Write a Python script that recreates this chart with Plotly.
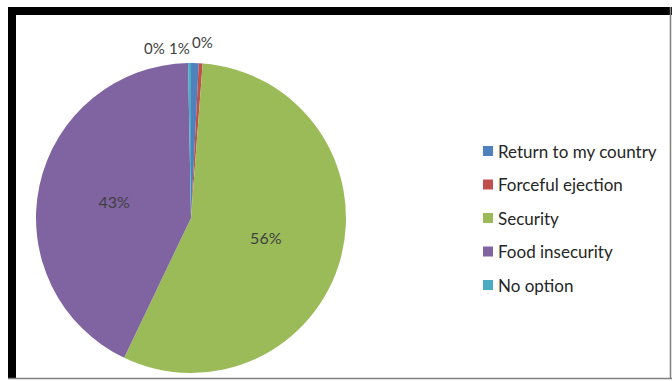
import plotly.graph_objects as go

labels = ["Return to my country", "Forceful ejection", "Security", "Food insecurity", "No option"]
values = [0.8, 0.4, 55.9, 42.6, 0.3]
colors = ["#4F81BD", "#C0504D", "#9BBB59", "#8064A2", "#4BACC6"]

W, H = 672, 381
FONT = "Lato, Calibri, 'Open Sans', sans-serif"
LABEL_COLOR = "#404040"

def px(x):
    return x / W

def py(y):
    return 1 - y / H

cx, cy, r = 191, 218, 155
total = sum(values)
pct = [f"{round(v / total * 100):.0f}%" for v in values]
small = [v / total < 0.02 for v in values]

fig = go.Figure(go.Pie(
    labels=labels,
    values=values,
    sort=False,
    direction="clockwise",
    rotation=0,
    marker=dict(colors=colors, line=dict(width=0)),
    text=["" if s else p for s, p in zip(small, pct)],
    texttemplate="%{text}",
    textposition="inside",
    textfont=dict(family=FONT, size=16, color=LABEL_COLOR),
    insidetextorientation="horizontal",
    showlegend=False,
    domain=dict(x=[px(cx - r), px(cx + r)], y=[py(cy + r), py(cy - r)]),
    hoverinfo="label+percent",
))

shapes = [
    dict(type="rect", xref="paper", yref="paper", x0=px(8), x1=1, y0=py(15), y1=py(7),
         fillcolor="black", line=dict(width=0), layer="above"),
    dict(type="rect", xref="paper", yref="paper", x0=px(8), x1=px(16), y0=py(379), y1=py(7),
         fillcolor="black", line=dict(width=0), layer="above"),
    dict(type="line", xref="paper", yref="paper", x0=px(670.5), x1=px(670.5), y0=py(379), y1=py(7),
         line=dict(color="#808080", width=1.5)),
    dict(type="line", xref="paper", yref="paper", x0=px(8), x1=1, y0=py(378.5), y1=py(378.5),
         line=dict(color="#808080", width=1.5)),
]

annotations = []

# outside labels for the tiny slices near 12 o'clock, spread horizontally (Excel best-fit style)
small_offsets = {4: (-37, -15), 0: (-12, -15), 1: (11, -21)}
for i, (dx, dy) in small_offsets.items():
    if small[i]:
        annotations.append(dict(xref="paper", yref="paper", x=px(cx + dx), y=py(cy - r + dy),
                                text=pct[i], showarrow=False, xanchor="center", yanchor="middle",
                                font=dict(family=FONT, size=15, color=LABEL_COLOR)))

leg_x_marker = 488
leg_x_text = 496
leg_y0, leg_dy = 151, 33.5
for i, (lab, col) in enumerate(zip(labels, colors)):
    yy = leg_y0 + i * leg_dy
    shapes.append(dict(type="rect", xref="paper", yref="paper",
                       x0=px(leg_x_marker - 5), x1=px(leg_x_marker + 5),
                       y0=py(yy + 5), y1=py(yy - 5),
                       fillcolor=col, line=dict(width=0)))
    annotations.append(dict(xref="paper", yref="paper", x=px(leg_x_text), y=py(yy),
                            text=lab, showarrow=False, xanchor="left", yanchor="middle",
                            font=dict(family=FONT, size=17, color="#262626")))

fig.update_layout(
    width=W, height=H,
    margin=dict(l=0, r=0, t=0, b=0),
    paper_bgcolor="white",
    plot_bgcolor="white",
    shapes=shapes,
    annotations=annotations,
)

fig.write_html("out.html")
